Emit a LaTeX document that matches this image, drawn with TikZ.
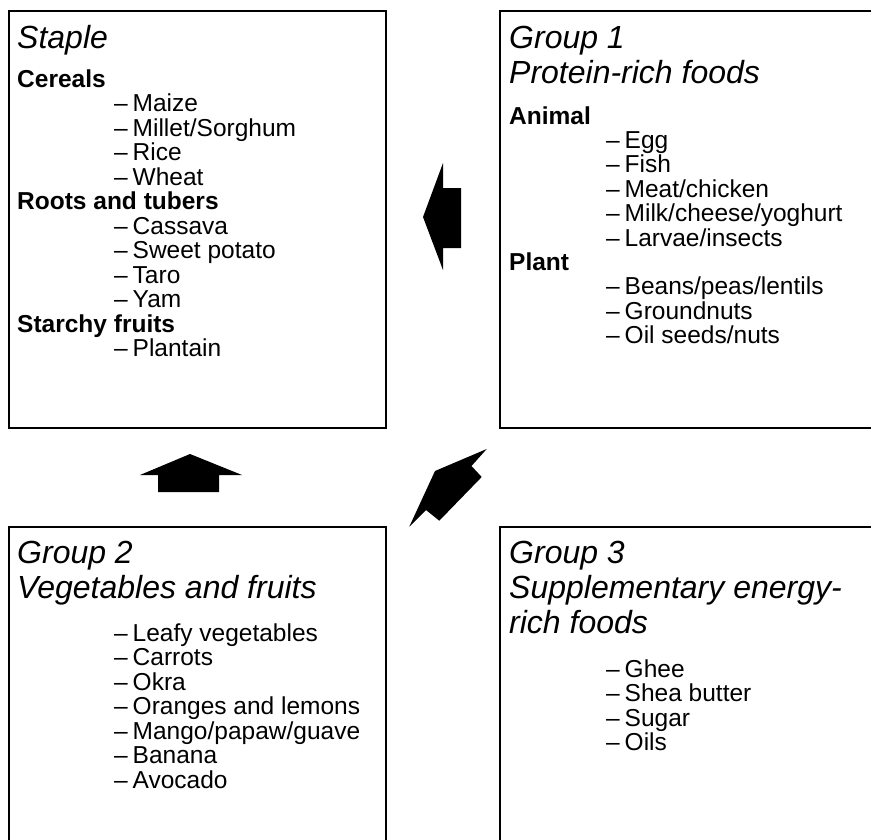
\documentclass[tikz,border=0pt]{standalone}
\usepackage{fontspec}
\setmainfont{Liberation Sans}
\usetikzlibrary{positioning}

\tikzset{
  panel/.style={draw, line width=1.3pt},
  head/.style={anchor=base west, inner sep=0pt, font=\fontsize{32}{35}\selectfont\itshape},
  sub/.style={anchor=base west, inner sep=0pt, font=\fontsize{24.5}{24.5}\selectfont\bfseries},
  itm/.style={anchor=base west, inner sep=0pt, font=\fontsize{24.5}{24.5}\selectfont, xshift=97pt},
  blockarrow/.style={fill=black, draw=none}
}
\newcommand{\dashitem}[1]{\textendash\hspace{0.2em}#1}

\begin{document}
\begin{tikzpicture}[x=1pt, y=-1pt]
    \useasboundingbox (0,0) rectangle (871,839);
    \clip (0,0) rectangle (871,839);

    % the four panels
    \draw[panel] (9,11) rectangle (386,428);
    \draw[panel] (500,11) rectangle (880,428);
    \draw[panel] (9,527) rectangle (386,850);
    \draw[panel] (500,527) rectangle (880,850);

    % Staple
    \node[head] (staple) at (17,48) {Staple};
    \foreach \k/\txt [count=\n from 0] in {sub/Cereals, itm/\dashitem{Maize}, itm/\dashitem{Millet/Sorghum},
        itm/\dashitem{Rice}, itm/\dashitem{Wheat}, sub/Roots and tubers, itm/\dashitem{Cassava},
        itm/\dashitem{Sweet potato}, itm/\dashitem{Taro}, itm/\dashitem{Yam}, sub/Starchy fruits,
        itm/\dashitem{Plantain}}
        \node[\k] (st\n) at (17,87+24.5*\n) {\txt};

    % Group 1
    \node[head] (gone) at (509,48) {Group 1};
    \node[head] (gonename) at (509,83) {Protein-rich foods};
    \foreach \k/\txt [count=\n from 0] in {sub/Animal, itm/\dashitem{Egg}, itm/\dashitem{Fish},
        itm/\dashitem{Meat/chicken}, itm/\dashitem{Milk/cheese/yoghurt}, itm/\dashitem{Larvae/insects},
        sub/Plant, itm/\dashitem{Beans/peas/lentils}, itm/\dashitem{Groundnuts},
        itm/\dashitem{Oil seeds/nuts}}
        \node[\k] (go\n) at (509,124+24.4*\n) {\txt};

    % Group 2
    \node[head] (gtwo) at (17,563) {Group 2};
    \node[head] (gtwoname) at (17,598) {Vegetables and fruits};
    \foreach \txt [count=\n from 0] in {Leafy vegetables, Carrots, Okra, Oranges and lemons,
        Mango/papaw/guave, Banana, Avocado}
        \node[itm] (gt\n) at (17,641+24.5*\n) {\dashitem{\txt}};

    % Group 3
    \node[head] (gthree) at (509,563) {Group 3};
    \node[head] (gthreename) at (509,598) {Supplementary energy-};
    \node[head] (gthreenametwo) at (509,633) {rich foods};
    \foreach \txt [count=\n from 0] in {Ghee, Shea butter, Sugar, Oils}
        \node[itm] (gh\n) at (509,677+24.5*\n) {\dashitem{\txt}};

    % block arrows
    \fill[blockarrow] (423,217) -- (443,163) -- (443,188) -- (461,188) -- (461,248)
        -- (443,248) -- (443,270) -- cycle;
    \fill[blockarrow] (190,454) -- (242,475) -- (219,475) -- (219,492) -- (158,492)
        -- (158,475) -- (140,475) -- cycle;
    \fill[blockarrow] (486.7,449) -- (471.5,466) -- (481.7,477) -- (439.3,520.7)
        -- (426,510) -- (409.3,526.7) -- (435,471) -- cycle;
\end{tikzpicture}
\end{document}
